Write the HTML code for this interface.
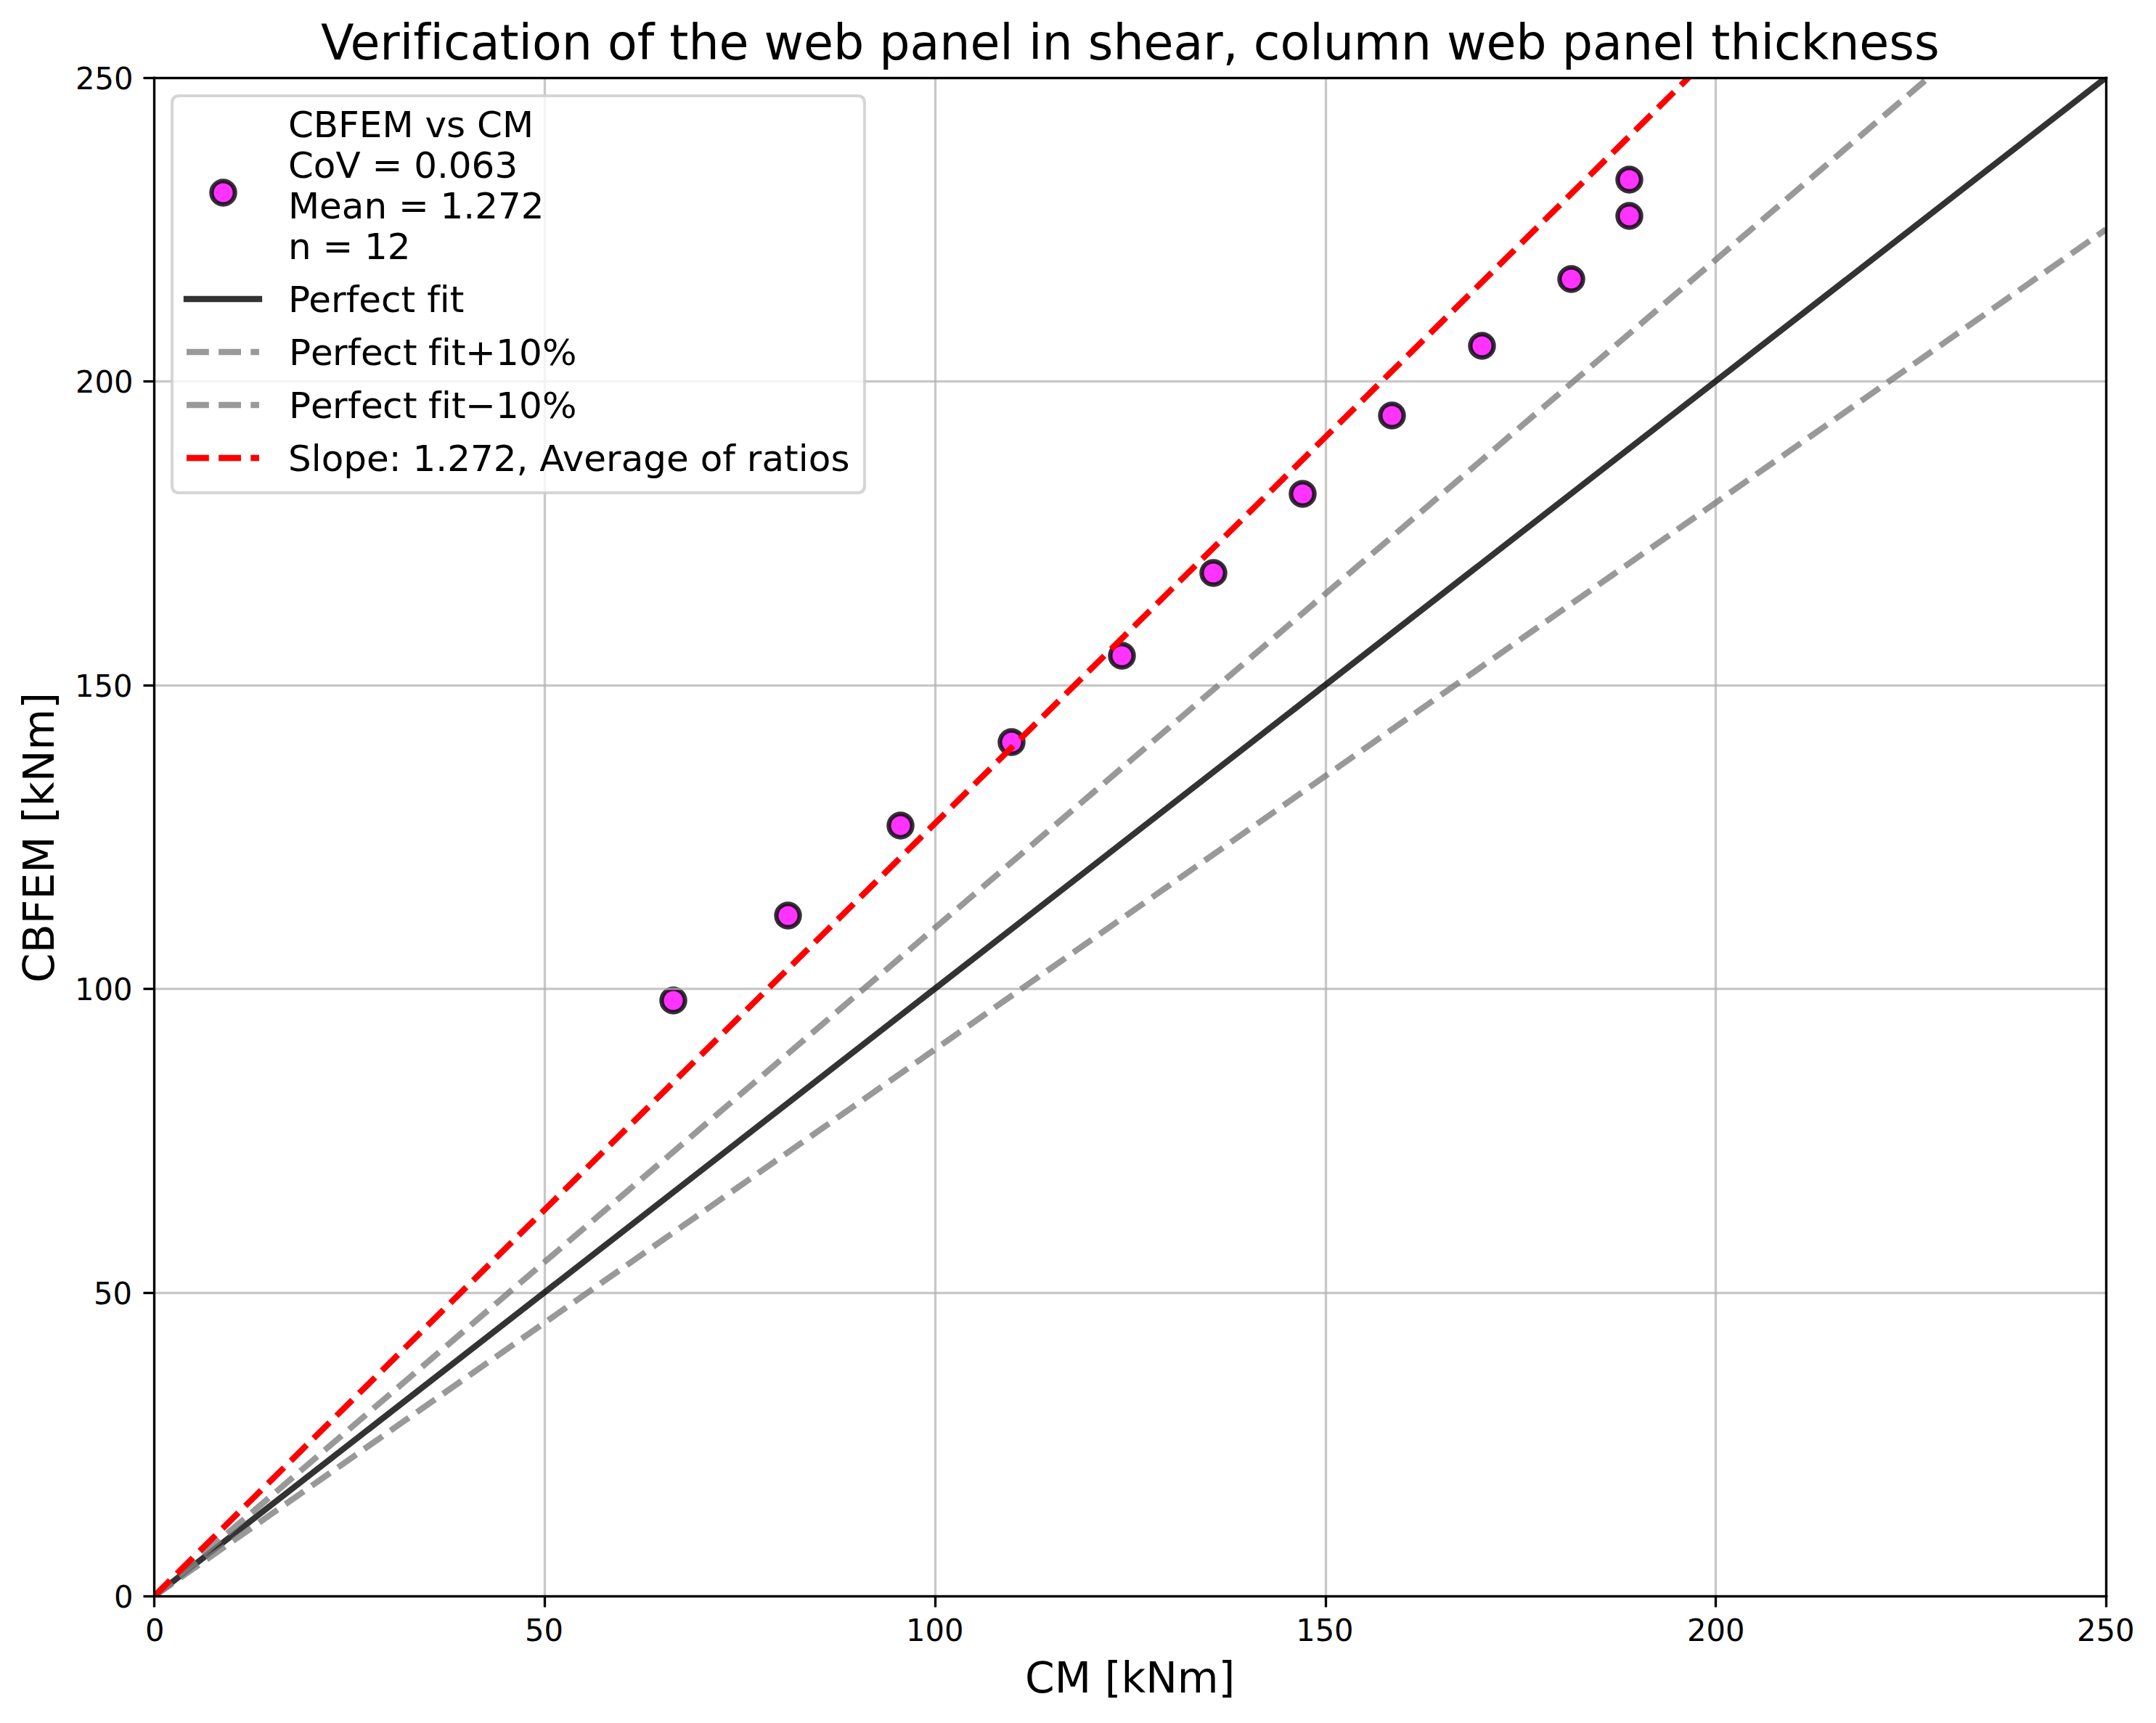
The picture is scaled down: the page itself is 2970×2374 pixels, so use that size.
<!DOCTYPE html>
<html lang="en"><head><meta charset="utf-8"><title>Verification of the web panel in shear</title>
<style>html,body{margin:0;padding:0;background:#fff}svg{display:block}text{white-space:pre;font-variant-ligatures:none;font-feature-settings:"liga" 0,"clig" 0,"dlig" 0}</style></head>
<body>
<svg width="2970" height="2374" viewBox="0 0 2970 2374" font-family='"DejaVu Sans", "Liberation Sans", sans-serif' fill="#000">
<defs><clipPath id="ax"><rect x="212.3333" y="107.0" width="2688.6666999999998" height="2092.1667"/></clipPath></defs>
<rect width="2970" height="2374" fill="#fff"/>
<g clip-path="url(#ax)" fill="#f0f" fill-opacity="0.8" stroke="#000" stroke-opacity="0.8" stroke-width="6.2500">
<circle cx="927.5" cy="1378.5" r="16.1374"/>
<circle cx="1085.5" cy="1261.5" r="16.1374"/>
<circle cx="1240.5" cy="1137.5" r="16.1374"/>
<circle cx="1393.5" cy="1022.5" r="16.1374"/>
<circle cx="1545.5" cy="903.5" r="16.1374"/>
<circle cx="1671.5" cy="789.5" r="16.1374"/>
<circle cx="1794.5" cy="680.5" r="16.1374"/>
<circle cx="1917.5" cy="572.5" r="16.1374"/>
<circle cx="2041.5" cy="476.5" r="16.1374"/>
<circle cx="2164.5" cy="384.5" r="16.1374"/>
<circle cx="2244.5" cy="297.5" r="16.1374"/>
<circle cx="2244.5" cy="247.5" r="16.1374"/>
</g>
<g shape-rendering="crispEdges">
<rect x="749" y="109" width="3" height="2089" fill="#b0b0b0" fill-opacity="0.7"/><rect x="748" y="109" width="1" height="2089" fill="#b0b0b0" fill-opacity="0.117"/><rect x="752" y="109" width="1" height="2089" fill="#b0b0b0" fill-opacity="0.117"/>
<rect x="1287" y="109" width="3" height="2089" fill="#b0b0b0" fill-opacity="0.7"/><rect x="1286" y="109" width="1" height="2089" fill="#b0b0b0" fill-opacity="0.117"/><rect x="1290" y="109" width="1" height="2089" fill="#b0b0b0" fill-opacity="0.117"/>
<rect x="1825" y="109" width="3" height="2089" fill="#b0b0b0" fill-opacity="0.7"/><rect x="1824" y="109" width="1" height="2089" fill="#b0b0b0" fill-opacity="0.117"/><rect x="1828" y="109" width="1" height="2089" fill="#b0b0b0" fill-opacity="0.117"/>
<rect x="2362" y="109" width="3" height="2089" fill="#b0b0b0" fill-opacity="0.7"/><rect x="2361" y="109" width="1" height="2089" fill="#b0b0b0" fill-opacity="0.117"/><rect x="2365" y="109" width="1" height="2089" fill="#b0b0b0" fill-opacity="0.117"/>
<rect x="214" y="1780" width="2686" height="3" fill="#b0b0b0" fill-opacity="0.7"/><rect x="214" y="1779" width="2686" height="1" fill="#b0b0b0" fill-opacity="0.117"/><rect x="214" y="1783" width="2686" height="1" fill="#b0b0b0" fill-opacity="0.117"/>
<rect x="214" y="1361" width="2686" height="3" fill="#b0b0b0" fill-opacity="0.7"/><rect x="214" y="1360" width="2686" height="1" fill="#b0b0b0" fill-opacity="0.117"/><rect x="214" y="1364" width="2686" height="1" fill="#b0b0b0" fill-opacity="0.117"/>
<rect x="214" y="943" width="2686" height="3" fill="#b0b0b0" fill-opacity="0.7"/><rect x="214" y="942" width="2686" height="1" fill="#b0b0b0" fill-opacity="0.117"/><rect x="214" y="946" width="2686" height="1" fill="#b0b0b0" fill-opacity="0.117"/>
<rect x="214" y="524" width="2686" height="3" fill="#b0b0b0" fill-opacity="0.7"/><rect x="214" y="523" width="2686" height="1" fill="#b0b0b0" fill-opacity="0.117"/><rect x="214" y="527" width="2686" height="1" fill="#b0b0b0" fill-opacity="0.117"/>
</g>
<g clip-path="url(#ax)" fill="none" stroke-width="8.3333">
<path d="M212.3333 2199.1667L2901.0 107.0" stroke="#000" stroke-opacity="0.8" stroke-linecap="square"/>
<path d="M212.3333 2199.1667L2901.0 -102.2167" stroke="#808080" stroke-opacity="0.8" stroke-dasharray="30.8333 13.3333"/>
<path d="M212.3333 2199.1667L2901.0 316.2167" stroke="#808080" stroke-opacity="0.8" stroke-dasharray="30.8333 13.3333"/>
<path d="M212.3333 2199.1667L2901.0 -462.0693" stroke="#f00" stroke-dasharray="30.8333 13.3333"/>
</g>
<g shape-rendering="crispEdges">
<rect x="211" y="106" width="3" height="2095" fill="#000" fill-opacity="1"/><rect x="210" y="106" width="1" height="2095" fill="#000" fill-opacity="0.169"/><rect x="214" y="106" width="1" height="2095" fill="#000" fill-opacity="0.204"/>
<rect x="2900" y="106" width="3" height="2095" fill="#000" fill-opacity="1"/><rect x="2899" y="106" width="1" height="2095" fill="#000" fill-opacity="0.204"/><rect x="2903" y="106" width="1" height="2095" fill="#000" fill-opacity="0.169"/>
<rect x="211" y="106" width="2692" height="3" fill="#000" fill-opacity="1"/><rect x="211" y="105" width="2692" height="1" fill="#000" fill-opacity="0.169"/><rect x="211" y="109" width="2692" height="1" fill="#000" fill-opacity="0.204"/>
<rect x="211" y="2198" width="2692" height="3" fill="#000" fill-opacity="1"/><rect x="211" y="2197" width="2692" height="1" fill="#000" fill-opacity="0.204"/><rect x="211" y="2201" width="2692" height="1" fill="#000" fill-opacity="0.169"/>
<rect x="2903" y="106" width="1" height="3" fill="#000" fill-opacity="0.31"/><rect x="2903" y="2198" width="1" height="3" fill="#000" fill-opacity="0.37"/>
<rect x="211" y="105" width="3" height="1" fill="#000" fill-opacity="0.37"/><rect x="2900" y="105" width="3" height="1" fill="#000" fill-opacity="0.31"/>
<rect x="211" y="2201" width="3" height="13" fill="#000" fill-opacity="1"/><rect x="210" y="2201" width="1" height="13" fill="#000" fill-opacity="0.169"/><rect x="214" y="2201" width="1" height="13" fill="#000" fill-opacity="0.169"/>
<rect x="211" y="2214" width="3" height="1" fill="#000" fill-opacity="0.5"/>
<rect x="749" y="2201" width="3" height="13" fill="#000" fill-opacity="1"/><rect x="748" y="2201" width="1" height="13" fill="#000" fill-opacity="0.169"/><rect x="752" y="2201" width="1" height="13" fill="#000" fill-opacity="0.169"/>
<rect x="749" y="2214" width="3" height="1" fill="#000" fill-opacity="0.5"/>
<rect x="1287" y="2201" width="3" height="13" fill="#000" fill-opacity="1"/><rect x="1286" y="2201" width="1" height="13" fill="#000" fill-opacity="0.169"/><rect x="1290" y="2201" width="1" height="13" fill="#000" fill-opacity="0.169"/>
<rect x="1287" y="2214" width="3" height="1" fill="#000" fill-opacity="0.5"/>
<rect x="1825" y="2201" width="3" height="13" fill="#000" fill-opacity="1"/><rect x="1824" y="2201" width="1" height="13" fill="#000" fill-opacity="0.169"/><rect x="1828" y="2201" width="1" height="13" fill="#000" fill-opacity="0.169"/>
<rect x="1825" y="2214" width="3" height="1" fill="#000" fill-opacity="0.5"/>
<rect x="2362" y="2201" width="3" height="13" fill="#000" fill-opacity="1"/><rect x="2361" y="2201" width="1" height="13" fill="#000" fill-opacity="0.169"/><rect x="2365" y="2201" width="1" height="13" fill="#000" fill-opacity="0.169"/>
<rect x="2362" y="2214" width="3" height="1" fill="#000" fill-opacity="0.5"/>
<rect x="2900" y="2201" width="3" height="13" fill="#000" fill-opacity="1"/><rect x="2899" y="2201" width="1" height="13" fill="#000" fill-opacity="0.169"/><rect x="2903" y="2201" width="1" height="13" fill="#000" fill-opacity="0.169"/>
<rect x="2900" y="2214" width="3" height="1" fill="#000" fill-opacity="0.5"/>
<rect x="198" y="2198" width="13" height="3" fill="#000" fill-opacity="1"/><rect x="198" y="2197" width="13" height="1" fill="#000" fill-opacity="0.169"/><rect x="198" y="2201" width="13" height="1" fill="#000" fill-opacity="0.169"/>
<rect x="197" y="2198" width="1" height="3" fill="#000" fill-opacity="0.5"/>
<rect x="198" y="1780" width="13" height="3" fill="#000" fill-opacity="1"/><rect x="198" y="1779" width="13" height="1" fill="#000" fill-opacity="0.169"/><rect x="198" y="1783" width="13" height="1" fill="#000" fill-opacity="0.169"/>
<rect x="197" y="1780" width="1" height="3" fill="#000" fill-opacity="0.5"/>
<rect x="198" y="1361" width="13" height="3" fill="#000" fill-opacity="1"/><rect x="198" y="1360" width="13" height="1" fill="#000" fill-opacity="0.169"/><rect x="198" y="1364" width="13" height="1" fill="#000" fill-opacity="0.169"/>
<rect x="197" y="1361" width="1" height="3" fill="#000" fill-opacity="0.5"/>
<rect x="198" y="943" width="13" height="3" fill="#000" fill-opacity="1"/><rect x="198" y="942" width="13" height="1" fill="#000" fill-opacity="0.169"/><rect x="198" y="946" width="13" height="1" fill="#000" fill-opacity="0.169"/>
<rect x="197" y="943" width="1" height="3" fill="#000" fill-opacity="0.5"/>
<rect x="198" y="524" width="13" height="3" fill="#000" fill-opacity="1"/><rect x="198" y="523" width="13" height="1" fill="#000" fill-opacity="0.169"/><rect x="198" y="527" width="13" height="1" fill="#000" fill-opacity="0.169"/>
<rect x="197" y="524" width="1" height="3" fill="#000" fill-opacity="0.5"/>
<rect x="198" y="106" width="13" height="3" fill="#000" fill-opacity="1"/><rect x="198" y="105" width="13" height="1" fill="#000" fill-opacity="0.169"/><rect x="198" y="109" width="13" height="1" fill="#000" fill-opacity="0.169"/>
<rect x="197" y="106" width="1" height="3" fill="#000" fill-opacity="0.5"/>
</g>
<text transform="matrix(1 0 0 1.01 441.990 81.500)" font-size="66.6667" x="0 40.5 81.38 108.75 127.25 150.62 169.12 205.75 246.5 272.62 291.12 331.88 374 395.12 435.88 459.25 480.38 506.5 548.62 589.5 610.62 665.12 706 748.25 769.38 811.62 852.38 894.5 935.38 953.88 975 993.5 1035.62 1056.75 1091.5 1133.62 1174.5 1215.25 1242.62 1263.75 1284.88 1321.5 1362.25 1380.75 1422.88 1487.75 1529.88 1551 1605.5 1646.38 1688.62 1709.75 1752 1792.75 1834.88 1875.75 1894.25 1915.38 1941.5 1983.62 2002.12 2038.75 2077.25 2119.38 2160.25 2195">Verification of the web panel in shear, column web panel thickness</text>
<text transform="matrix(1 0 0 1.0 1411.880 2331.500)" font-size="58.3333" x="0 40.75 91.25 109.75 132.5 166.25 209.88 266.62">CM [kNm]</text>
<text transform="matrix(0 -1 1.02 0 73.500 1354.080)" font-size="58.3333" x="0 40.75 80.88 114.5 151.38 201.88 220.38 243.12 276.88 320.5 377.25">CBFEM [kNm]</text>
<text transform="matrix(1 0 0 1.02 199.880 2260.580)" font-size="41.6667" x="0">0</text>
<text transform="matrix(1 0 0 1.04 722.970 2260.580)" font-size="41.6667" x="0 26.5">50</text>
<text transform="matrix(1 0 0 1.04 1247.950 2260.580)" font-size="41.6667" x="0 26.5 53">100</text>
<text transform="matrix(1 0 0 1.04 1785.130 2260.580)" font-size="41.6667" x="0 26.5 53">150</text>
<text transform="matrix(1 0 0 1.01 2324.080 2260.580)" font-size="41.6667" x="0 26.38 52.88">200</text>
<text transform="matrix(1 0 0 1.01 2861.010 2260.580)" font-size="41.6667" x="0 26.38 52.88">250</text>
<text transform="matrix(1 0 0 1.02 156.970 2214.670)" font-size="41.6667" x="0">0</text>
<text transform="matrix(1 0 0 1.04 128.970 1796.730)" font-size="41.6667" x="0 26.5">50</text>
<text transform="matrix(1 0 0 1.04 102.970 1377.550)" font-size="41.6667" x="0 26.5 53">100</text>
<text transform="matrix(1 0 0 1.04 102.970 959.620)" font-size="41.6667" x="0 26.5 53">150</text>
<text transform="matrix(1 0 0 1.01 104.090 540.680)" font-size="41.6667" x="0 26.38 52.88">200</text>
<text transform="matrix(1 0 0 1.01 104.090 122.500)" font-size="41.6667" x="0 26.38 52.88">250</text>
<path d="M247 132H1181Q1191 132 1191 142V669Q1191 679 1181 679H247Q237 679 237 669V142Q237 132 247 132Z" fill="#fff" fill-opacity="0.8" stroke="#ccc" stroke-opacity="0.8" stroke-width="4.1667"/>
<circle cx="307.5" cy="265.5" r="16.1374" fill="#f0f" fill-opacity="0.8" stroke="#000" stroke-opacity="0.8" stroke-width="6.25"/>
<g fill="none" stroke-width="8.3333">
<path d="M257 412H357" stroke="#000" stroke-opacity="0.8" stroke-linecap="square"/>
<path d="M257 485H357" stroke="#808080" stroke-opacity="0.8" stroke-dasharray="30.8333 13.3333"/>
<path d="M257 558H357" stroke="#808080" stroke-opacity="0.8" stroke-dasharray="30.8333 13.3333"/>
<path d="M257 631H357" stroke="#f00" stroke-dasharray="30.8333 13.3333"/>
</g>
<text transform="matrix(1 0 0 1.0 396.930 188.500)" font-size="50.0000" x="0 34.88 69.12 97.88 129.5 172.62 188.5 218.12 244.25 260.12 295">CBFEM vs CM</text>
<text transform="matrix(1 0 0 1.0 396.930 244.600)" font-size="50.0000" x="0 34.88 65.5 99.75 115.62 157.38 173.25 205 220.88 252.62 284.5">CoV = 0.063</text>
<text transform="matrix(1 0 0 1.01 396.930 300.700)" font-size="50.0000" x="0 43.12 73.88 104.5 136.12 152 193.75 209.62 241.38 257.25 289 320.88">Mean = 1.272</text>
<text transform="matrix(1 0 0 1.01 396.930 356.550)" font-size="50.0000" x="0 31.62 47.5 89.25 105.12 136.88">n = 12</text>
<text transform="matrix(1 0 0 1.0 396.880 429.550)" font-size="50.0000" x="0 28.38 59.12 79.75 97.38 128.12 155.62 175.38 191.25 208.88 222.88">Perfect fit</text>
<text transform="matrix(1 0 0 0.98 397.930 502.550)" font-size="50.0000" x="0 30 60 81 99 129 157 176 192 210 224 243 285 317 349">Perfect fit+10%</text>
<text transform="matrix(1 0 0 1.01 397.930 575.550)" font-size="50.0000" x="0 30 60 81 99 129 157 176 192 210 224 243 285 317 349">Perfect fit−10%</text>
<text transform="matrix(1 0 0 0.98 397.080 648.550)" font-size="50.0000" x="0 31.62 45.62 76.25 108 138.75 155.62 171.5 203.25 219.12 250.88 282.75 314.5 330.38 346.25 377.62 407.25 438 458.62 489.25 521 551.75 567.62 598.25 615.88 631.75 652.38 683 702.75 716.75 747.38">Slope: 1.272, Average of ratios</text>
</svg>
</body></html>
